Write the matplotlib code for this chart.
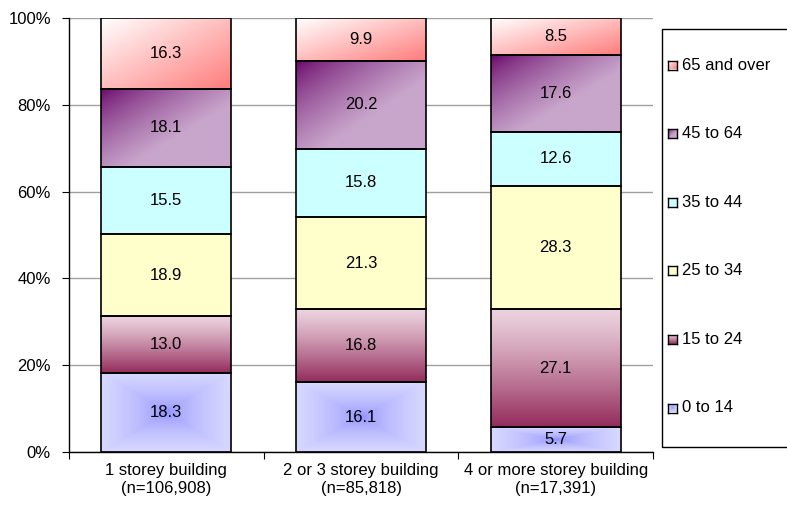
import numpy as np
import matplotlib.pyplot as plt
from matplotlib.colors import to_rgb
from matplotlib.patches import Rectangle
from matplotlib.ticker import MultipleLocator, PercentFormatter

plt.rcParams['font.family'] = ['Liberation Sans', 'DejaVu Sans']

buildings = ['1 storey building\n(n=106,908)',
             '2 or 3 storey building\n(n=85,818)',
             '4 or more storey building\n(n=17,391)']
age_groups = ['0 to 14', '15 to 24', '25 to 34', '35 to 44', '45 to 64', '65 and over']
age_0_14 = [18.3, 16.1, 5.7]
age_15_24 = [13.0, 16.8, 27.1]
age_25_34 = [18.9, 21.3, 28.3]
age_35_44 = [15.5, 15.8, 12.6]
age_45_64 = [18.1, 20.2, 17.6]
age_65_over = [16.3, 9.9, 8.5]
series = [age_0_14, age_15_24, age_25_34, age_35_44, age_45_64, age_65_over]

# gradient style per group: kind, start colour, end colour, gamma, reach
fills = {
    '0 to 14': ('center', '#8585FF', '#D8D8FF', 0.5, 1.0),
    '15 to 24': ('vertical', '#ECD2DE', '#942C5C', 1.2, 1.0),
    '25 to 34': ('solid', '#FFFFCC', '#FFFFCC', 1.0, 1.0),
    '35 to 44': ('solid', '#CCFFFF', '#CCFFFF', 1.0, 1.0),
    '45 to 64': ('diagonal', '#660066', '#C8A5CB', 0.7, 0.6),
    '65 and over': ('diagonal', '#FFFFFF', '#FF7C7C', 1.0, 1.0),
}


def gradient(kind, c0, c1, gamma, reach, n=80):
    u = np.linspace(0, 1, n)[None, :]
    v = np.linspace(0, 1, n)[:, None]
    if kind == 'center':
        t = 2 * np.maximum(np.abs(u - 0.5), np.abs(v - 0.5))
    elif kind == 'vertical':
        t = v + 0 * u
    elif kind == 'diagonal':
        t = (u + v) / 2
    else:
        t = 0 * u + 0 * v
    t = np.clip(t / reach, 0, 1) ** gamma
    c0 = np.array(to_rgb(c0))
    c1 = np.array(to_rgb(c1))
    return c0 + (c1 - c0) * t[..., None]


W, H = 787, 508
fig, ax = plt.subplots(figsize=(W / 100, H / 100), dpi=100)
fig.subplots_adjust(left=69 / W, right=653 / W, bottom=1 - 452 / H, top=1 - 18 / H)

x = np.arange(len(buildings))
totals = np.sum(series, axis=0)
bottom = np.zeros(len(buildings))
for name, vals in zip(age_groups, series):
    share = np.array(vals) / totals * 100
    bars = ax.bar(x, share, 0.667, bottom=bottom, facecolor='none',
                  edgecolor='black', linewidth=1.2, zorder=3)
    img = gradient(*fills[name])
    for rect, val in zip(bars, vals):
        x0, y0 = rect.get_x(), rect.get_y()
        w, h = rect.get_width(), rect.get_height()
        ax.imshow(img, extent=[x0, x0 + w, y0, y0 + h], aspect='auto',
                  interpolation='bilinear', zorder=2)
        ax.text(x0 + w / 2, y0 + h / 2, f'{val:.1f}', ha='center', va='center',
                fontsize=12, zorder=4)
    bottom += share

ax.set_xlim(-0.5, len(buildings) - 0.5)
ax.set_ylim(0, 100)
ax.yaxis.set_major_locator(MultipleLocator(20))
ax.yaxis.set_major_formatter(PercentFormatter(xmax=100, decimals=0))
ax.grid(axis='y', color='#A0A0A0', linewidth=1)
ax.set_axisbelow(True)
for s in ['top', 'right']:
    ax.spines[s].set_visible(False)
ax.spines['left'].set_linewidth(1)
ax.spines['bottom'].set_linewidth(1)

ax.set_xticks(np.arange(len(buildings) + 1) - 0.5)
ax.set_xticklabels([])
ax.set_xticks(x, minor=True)
ax.set_xticklabels(buildings, minor=True, fontsize=12)
ax.tick_params(axis='x', which='major', length=5, direction='out')
ax.tick_params(axis='x', which='minor', length=0, pad=8)
ax.tick_params(axis='y', length=5, pad=8, labelsize=12)

# legend box, running off the right edge
fig.add_artist(Rectangle((662 / W, 1 - 447 / H), 0.3, (447 - 29) / H,
                         transform=fig.transFigure, facecolor='white',
                         edgecolor='black', linewidth=1, zorder=-1))
for i, name in enumerate(reversed(age_groups)):
    yc = 65 + i * 68.6
    sq = fig.add_axes([668 / W, 1 - (yc + 4.5) / H, 9 / W, 9 / H])
    sq.imshow(gradient(*fills[name], n=20), aspect='auto', interpolation='bilinear')
    sq.set_xticks([])
    sq.set_yticks([])
    for sp in sq.spines.values():
        sp.set_linewidth(1)
    fig.text(682 / W, 1 - yc / H, name, ha='left', va='center', fontsize=12)

fig.savefig('out.png', dpi=100)
